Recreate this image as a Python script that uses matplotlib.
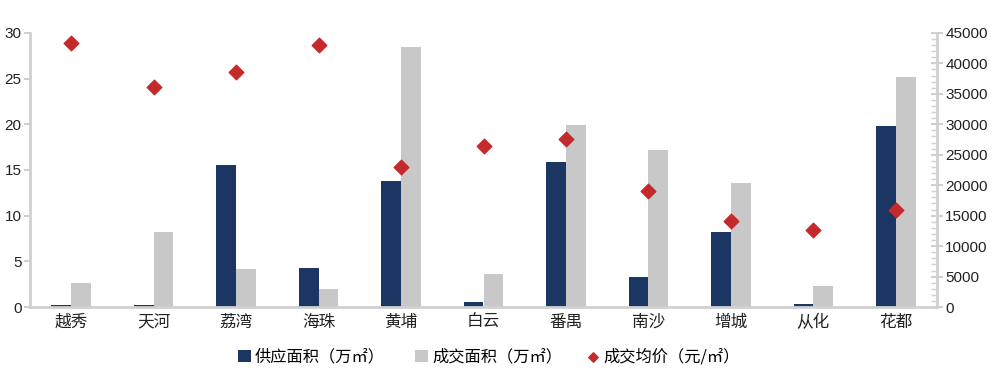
import matplotlib
matplotlib.use("Agg")
import matplotlib.pyplot as plt
import numpy as np
from matplotlib.ticker import MultipleLocator

plt.rcParams['font.family'] = ['Liberation Sans', 'Noto Sans CJK SC', 'DejaVu Sans']

districts = ['越秀', '天河', '荔湾', '海珠', '黄埔', '白云', '番禺', '南沙', '增城', '从化', '花都']
supply = [0.2, 0.2, 15.5, 4.3, 13.8, 0.5, 15.9, 3.3, 8.2, 0.3, 19.8]
deal = [2.6, 8.2, 4.2, 2.0, 28.5, 3.6, 19.9, 17.2, 13.6, 2.3, 25.2]
price = [43400, 36100, 38600, 43000, 23000, 26400, 27600, 19000, 14100, 12600, 15900]

navy = '#1c3664'
gray = '#c8c8c8'
red = '#c42a2c'
spine_c = '#d0d0d0'

fig = plt.figure(figsize=(10, 3.74), dpi=100)
ax = fig.add_axes([0.03, 0.179, 0.907, 0.733])
ax2 = ax.twinx()

x = np.arange(len(districts))
w = 0.24
b1 = ax.bar(x - w/2, supply, w, color=navy, label='供应面积（万㎡）', zorder=2)
b2 = ax.bar(x + w/2, deal, w, color=gray, label='成交面积（万㎡）', zorder=2)
s = ax2.scatter(x, price, marker='D', s=55, color=red, label='成交均价（元/㎡）', zorder=3)

ax.set_xlim(-0.5, len(districts) - 0.5)
ax.set_ylim(0, 30)
ax.yaxis.set_major_locator(MultipleLocator(5))
ax2.set_ylim(0, 45000)
ax2.yaxis.set_major_locator(MultipleLocator(5000))
ax2.yaxis.set_minor_locator(MultipleLocator(1000))

for a in (ax, ax2):
    for sp in a.spines.values():
        sp.set_visible(False)
ax.spines['left'].set_visible(True)
ax.spines['bottom'].set_visible(True)
ax2.spines['right'].set_visible(True)
for sp in (ax.spines['left'], ax.spines['bottom'], ax2.spines['right']):
    sp.set_color(spine_c)
    sp.set_linewidth(2)

ax.set_xticks(x)
ax.set_xticklabels(districts, family=['Noto Sans CJK SC'], fontsize=12)
ax.tick_params(axis='x', length=0, pad=5, colors='#222222')
ax.tick_params(axis='y', length=4, width=1.5, color=spine_c, labelsize=11, labelcolor='#222222', pad=2)
ax2.tick_params(axis='y', which='major', direction='inout', length=8, width=1.5, color=spine_c,
                labelsize=11, labelcolor='#222222', pad=2)
ax2.tick_params(axis='y', which='minor', direction='in', length=4, width=1, color=spine_c)

# legend items placed individually (left edge of handle in figure fraction)
items = [(b1, 0.238, 1.0), (b2, 0.415, 1.0), (s, 0.586, 0.65)]
for h, xpos, ms in items:
    fig.legend([h], [h.get_label()], loc='center left', bbox_to_anchor=(xpos, 0.045), frameon=False,
               prop={'family': 'Noto Sans CJK SC', 'size': 11.7}, handlelength=0.8, handleheight=0.8,
               handletextpad=0.25, borderpad=0, borderaxespad=0, markerscale=ms)

fig.savefig('out.png', dpi=100)
